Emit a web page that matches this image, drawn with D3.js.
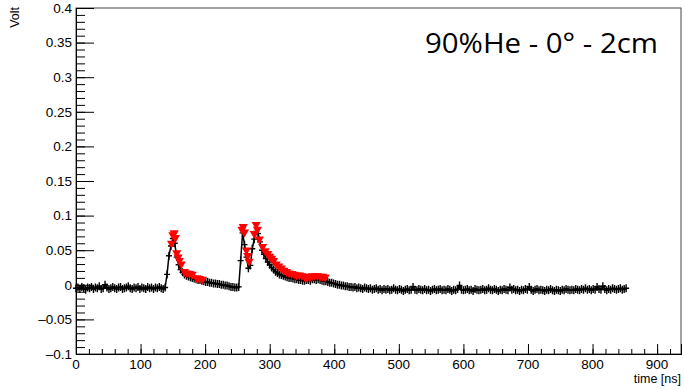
<!DOCTYPE html>
<html>
<head>
<meta charset="utf-8">
<script src="https://cdn.jsdelivr.net/npm/d3@7"></script>
<style>
  body { margin: 0; background: #fff; }
  svg { display: block; }
</style>
</head>
<body>
<div id="chart"></div>
<script>
// waveform samples, one every 3 ns starting at 0 ns, values in mV
var sampleStep = 3;
var waveMv = [
  -5,-4,-6,-3,-5,-7,-4,-5,-3,-6,
  -4,-5,-2,-6,-5,0,-4,-6,-5,-3,
  -5,-6,-4,-3,-6,-5,-4,-2,-5,-6,
  -4,-5,-3,-6,-4,-5,-6,-3,-5,-4,
  -6,-4,-5,-3,-5,-6,-4,15,42,56,
  67,60,40,29,22,18,15,13,12,11,
  10,9,8,7,7,6,5,4,4,3,
  3,2,2,1,1,0,0,-1,-1,-2,
  -3,-3,-4,-4,-3,35,75,58,40,24,
  28,52,66,77,74,62,50,44,38,33,
  29,25,22,19,17,15,14,13,12,11,
  10,10,9,8,8,7,7,6,6,7,
  7,6,8,8,7,8,7,6,5,5,
  4,3,3,2,1,0,0,-1,-1,-2,
  -2,-3,-3,-4,-3,-5,-4,-5,-6,-4,
  -5,-6,-5,-7,-6,-5,-7,-6,-8,-6,
  -7,-6,-8,-7,-5,-7,-8,-6,-7,-9,
  -7,-6,-8,-7,-3,-7,-8,-6,-7,-8,
  -6,-8,-7,-9,-7,-6,-8,-7,-6,-8,
  -7,-8,-6,-7,-9,-7,-8,-6,-1,-7,
  -8,-7,-6,-8,-7,-9,-6,-7,-8,-7,
  -6,-8,-7,-5,-7,-8,-6,-7,-9,-7,
  -8,-6,-7,-8,-4,-7,-6,-8,-7,-9,
  -7,-8,-6,-7,-3,-7,-9,-7,-6,-8,
  -7,-8,-9,-7,-8,-6,-8,-9,-7,-8,
  -9,-7,-8,-6,-7,-8,-7,-8,-6,-7,
  -8,-6,-7,-5,-7,-6,-8,-6,-7,-3,
  -6,-7,-2,-6,-8,-6,-7,-5,-6,-7,
  -6,-5,-7,-6,-5
];

// red triangle markers (time ns, value mV)
var peakTimes = [148,150,152,154,156,158,160,163,168,172,176,180,187,191,196,
  257,259,261,264,266,268,276,279,281,284,289,293,297,300,303,306,310,314,318,
  322,326,330,334,338,342,346,350,354,358,362,366,370,374,378,382,386];
var peakMv = [60,72,75,68,46,40,35,30,19,17,16,15,10,9,8,
  80,84,76,50,42,34,74,87,80,66,55,49,45,41,38,35,30,27,24,
  21,19,17,16,15,14,14,13,12,10,11,13,13,13,12,12,11];

var yTicks = [-0.1,-0.05,0,0.05,0.1,0.15,0.2,0.25,0.3,0.35,0.4];
var xTicks = [0,100,200,300,400,500,600,700,800,900];
var titleText = "90%He - 0\u00b0 - 2cm";

var W = 684, H = 390;
var font = '"Liberation Sans", Arial, sans-serif';
var svg = d3.select('#chart').append('svg')
    .attr('width', W)
    .attr('height', H);

var x = d3.scaleLinear().domain([0, 937]).range([76, 681]);
var y = d3.scaleLinear().domain([-0.1, 0.4]).range([354, 8]);

var wave = waveMv.map(function(v, i) { return { t: i * sampleStep, v: v / 1000 }; });
var peaks = peakTimes.map(function(t, i) { return { t: t, v: peakMv[i] / 1000 }; });

// frame
svg.append('rect')
    .attr('x', x.range()[0]).attr('y', y.range()[1])
    .attr('width', x.range()[1] - x.range()[0])
    .attr('height', y.range()[0] - y.range()[1])
    .attr('fill', 'none')
    .attr('stroke', '#444')
    .attr('stroke-width', 1);

// y axis: major ticks every 0.05, minor every 0.01
var yAxis = d3.axisRight(y)
    .tickValues(yTicks)
    .tickSize(18)
    .tickFormat('');
var yMinor = d3.axisRight(y)
    .tickValues(d3.range(-10, 41).map(function(k) { return k / 100; }))
    .tickSize(9)
    .tickFormat('');
[yMinor, yAxis].forEach(function(a) {
    var g = svg.append('g').attr('transform', 'translate(' + x.range()[0] + ',0)').call(a);
    g.select('.domain').attr('stroke', '#000');
    g.selectAll('line').attr('stroke', '#000');
});

svg.append('g').selectAll('text')
    .data(yTicks)
    .enter()
    .append('text')
    .attr('x', 72)
    .attr('y', function(d) { return y(d); })
    .attr('dy', '0.36em')
    .attr('text-anchor', 'end')
    .style('font-family', font)
    .style('font-size', '13.5px')
    .text(function(d) { return d < 0 ? '\u2013' + d3.format('')(-d) : d3.format('')(d); });

// x axis: major every 100, minor every 20
var xAxis = d3.axisTop(x).tickValues(xTicks).tickSize(10).tickFormat('');
var xMinor = d3.axisTop(x).tickValues(d3.range(0, 937, 20)).tickSize(5).tickFormat('');
[xMinor, xAxis].forEach(function(a) {
    var g = svg.append('g').attr('transform', 'translate(0,' + y.range()[0] + ')').call(a);
    g.select('.domain').attr('stroke', '#000');
    g.selectAll('line').attr('stroke', '#000');
});

svg.append('g').selectAll('text')
    .data(xTicks)
    .enter()
    .append('text')
    .attr('x', function(d) { return x(d); })
    .attr('y', 369)
    .attr('text-anchor', 'middle')
    .style('font-family', font)
    .style('font-size', '13.5px')
    .text(function(d) { return d; });

svg.append('text')
    .attr('x', 681).attr('y', 383)
    .attr('text-anchor', 'end')
    .style('font-family', font)
    .style('font-size', '12.5px')
    .text('time [ns]');

svg.append('text')
    .attr('transform', 'translate(19,7) rotate(-90)')
    .attr('text-anchor', 'end')
    .style('font-family', font)
    .style('font-size', '12.5px')
    .text('Volt');

// waveform
var line = d3.line()
    .x(function(d) { return x(d.t); })
    .y(function(d) { return y(d.v); });

svg.append('path')
    .datum(wave)
    .attr('d', line)
    .attr('fill', 'none')
    .attr('stroke', '#000')
    .attr('stroke-width', 1.5);

svg.append('g').selectAll('path')
    .data(wave)
    .enter()
    .append('path')
    .attr('d', function(d) {
        var cx = x(d.t), cy = y(d.v);
        return 'M' + (cx - 3) + ',' + cy + 'H' + (cx + 3) +
               'M' + cx + ',' + (cy - 4) + 'V' + (cy + 4);
    })
    .attr('stroke', '#000')
    .attr('stroke-width', 1.4)
    .attr('fill', 'none');

var tri = d3.symbol().type(d3.symbolTriangle).size(36);
svg.append('g').selectAll('path')
    .data(peaks)
    .enter()
    .append('path')
    .attr('d', tri)
    .attr('transform', function(d) {
        return 'translate(' + x(d.t) + ',' + y(d.v) + ') rotate(180)';
    })
    .attr('fill', '#ff0000');

// label
svg.append('text')
    .attr('x', 425).attr('y', 53)
    .style('font-family', '"Open Sans", "Noto Sans", sans-serif')
    .style('font-size', '28px')
    .attr('textLength', 233)
    .attr('lengthAdjust', 'spacingAndGlyphs')
    .attr('fill', '#000')
    .text(titleText);
</script>
</body>
</html>
